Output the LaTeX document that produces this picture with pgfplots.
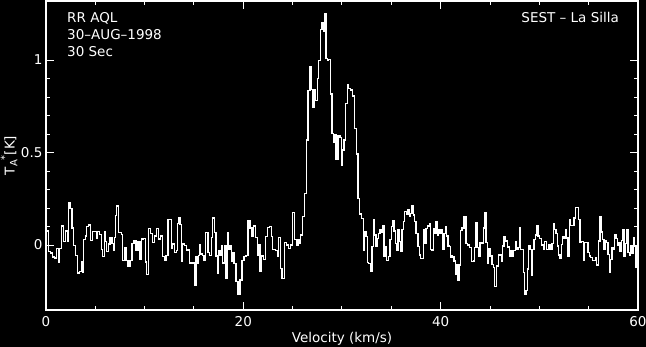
\documentclass[border=0pt]{standalone}
\usepackage{pgfplots}
\pgfplotsset{compat=1.18}
\usepackage{fontspec}
\setmainfont{DejaVu Sans}
\pgfplotstableread{
v T
0 0.076
0.27 -0.035
0.47 -0.044
0.68 -0.065
0.88 -0.069
1.08 -0.018
1.28 -0.095
1.38 -0.018
1.55 0.104
1.76 0.019
1.96 0.076
2.16 0.019
2.26 0.231
2.43 0.196
2.63 0.093
2.77 -0.004
2.97 -0.055
3.18 -0.150
3.38 -0.143
3.58 -0.092
3.68 -0.145
3.78 0.030
3.99 0.049
4.12 0.099
4.32 0.109
4.53 0.023
4.73 0.072
4.93 0.074
5.13 0.037
5.20 0.072
5.40 0.058
5.61 -0.023
5.74 -0.062
5.95 0.072
6.05 0.019
6.15 -0.034
6.35 0.005
6.49 0.041
6.69 0.009
6.82 -0.026
6.96 0.041
7.06 0.160
7.16 0.210
7.36 0.067
7.63 0.058
7.77 -0.083
7.97 -0.012
8.11 -0.083
8.31 -0.115
8.51 -0.083
8.72 0.009
8.92 0.026
9.12 -0.026
9.32 0.019
9.53 -0.076
9.66 0.032
9.86 0.037
10.07 -0.092
10.20 -0.160
10.40 0.090
10.61 0.062
10.81 0.014
11.01 0.049
11.22 0.088
11.42 0.032
11.62 0.049
11.82 -0.062
12.03 -0.083
12.16 -0.058
12.36 0.139
12.70 -0.016
12.84 0.005
13.04 -0.039
13.24 -0.030
13.31 0.115
13.45 0.150
13.58 0.111
13.72 -0.086
13.85 0.005
14.05 -0.002
14.26 -0.030
14.39 -0.026
14.53 -0.097
15.07 -0.215
15.20 -0.065
15.34 -0.100
15.47 -0.056
15.54 0.000
15.68 -0.048
15.88 -0.056
16.01 -0.083
16.15 0.067
16.42 -0.039
16.55 -0.056
16.76 0.041
16.89 0.146
17.09 0.067
17.23 -0.060
17.36 -0.150
17.50 -0.030
17.63 -0.056
17.77 -0.004
17.90 -0.097
18.11 -0.004
18.24 -0.180
18.38 0.067
18.51 -0.021
18.65 -0.004
18.78 -0.086
18.92 -0.044
19.05 -0.100
19.26 -0.198
19.46 -0.268
19.66 -0.189
19.86 -0.083
20.07 -0.062
20.27 -0.056
20.47 0.129
20.68 0.093
20.88 0.049
21.01 0.102
21.22 0.041
21.42 -0.053
21.49 0.000
21.69 -0.144
21.82 -0.060
22.03 -0.077
22.23 0.045
22.43 0.095
22.63 0.099
22.84 0.045
22.97 -0.023
23.24 -0.031
23.45 -0.063
23.58 0.041
23.78 -0.126
23.92 -0.180
24.19 0.013
24.39 0.000
24.59 -0.018
24.80 0.000
25.00 0.175
25.20 0.031
25.40 0.000
25.54 0.031
25.68 0.009
25.81 0.054
26.01 0.153
26.22 0.279
26.42 0.568
26.55 0.834
26.76 0.964
26.89 0.841
27.03 0.744
27.16 0.841
27.30 0.780
27.50 0.901
27.64 0.996
27.84 1.166
27.97 1.202
28.11 1.153
28.24 1.249
28.38 1.009
28.51 0.996
28.65 1.004
28.85 0.816
28.99 0.604
29.12 0.553
29.26 0.595
29.39 0.463
29.59 0.589
29.80 0.582
29.93 0.432
30.07 0.514
30.20 0.568
30.34 0.766
30.54 0.865
30.68 0.847
30.88 0.838
31.08 0.805
31.28 0.631
31.49 0.492
31.62 0.252
31.76 0.168
31.96 0.144
32.16 -0.031
32.30 0.072
32.43 0.045
32.57 -0.095
32.70 -0.099
32.90 -0.144
33.04 -0.009
33.18 0.135
33.31 0.054
33.45 -0.009
33.58 0.036
33.72 0.063
33.85 0.085
33.99 0.067
34.12 0.103
34.26 -0.059
34.39 -0.009
34.53 -0.085
34.73 -0.063
34.87 0.031
35.00 0.099
35.14 0.132
35.27 0.077
35.41 0.009
35.54 -0.031
35.68 0.081
35.81 0.018
35.95 -0.036
36.08 0.085
36.22 0.126
36.35 0.180
36.55 0.168
36.69 0.193
36.82 0.153
36.96 0.171
37.09 0.211
37.23 0.162
37.36 0.126
37.50 0.063
37.70 -0.009
37.84 -0.054
37.97 -0.072
38.24 0.081
38.38 0.009
38.51 0.090
38.65 0.103
38.85 0.114
38.99 -0.023
39.12 -0.031
39.26 0.090
39.39 0.063
39.53 0.126
39.66 0.054
39.80 0.085
39.93 0.063
40.07 0.085
40.20 -0.023
40.34 0.063
40.47 0.099
40.61 0.049
40.74 -0.005
40.88 -0.009
41.01 -0.067
41.08 -0.059
41.21 -0.064
41.35 -0.086
41.48 -0.157
41.62 -0.104
41.75 -0.193
41.89 -0.107
42.03 0.079
42.16 0.093
42.36 0.155
42.57 0.007
42.70 0.000
42.90 -0.014
43.11 -0.089
43.31 -0.086
43.44 -0.014
43.58 0.120
43.71 -0.014
43.85 -0.059
43.98 0.013
44.19 0.007
44.32 0.093
44.46 0.173
44.59 0.013
44.73 -0.100
44.86 -0.018
45.00 -0.059
45.20 -0.104
45.34 -0.121
45.47 -0.225
45.67 -0.113
45.88 -0.054
46.15 -0.086
46.28 -0.005
46.42 0.043
46.55 0.021
46.75 -0.011
46.96 -0.059
47.09 -0.032
47.23 -0.059
47.36 -0.029
47.57 0.018
47.70 -0.023
47.84 -0.014
47.97 0.093
48.11 -0.023
48.38 -0.148
48.51 -0.264
48.65 -0.246
48.78 -0.130
48.92 -0.005
49.05 -0.023
49.19 -0.166
49.32 -0.023
49.46 0.030
49.59 0.054
49.73 0.102
49.86 0.048
50.00 0.036
50.20 0.000
50.40 -0.023
50.54 0.018
50.74 -0.023
50.94 0.004
51.08 -0.023
51.28 0.007
51.42 0.114
51.55 0.084
51.69 0.061
51.82 -0.005
51.96 -0.054
52.09 -0.071
52.23 0.004
52.36 0.043
52.50 0.039
52.63 0.084
52.77 0.039
52.90 -0.059
53.04 0.138
53.17 0.107
53.51 0.146
53.64 0.204
53.98 0.138
54.12 0.013
54.25 0.018
54.46 -0.082
54.59 0.013
54.93 -0.041
55.06 -0.059
55.20 -0.068
55.40 -0.082
55.67 -0.068
55.81 -0.107
56.01 0.021
56.15 0.155
56.28 0.070
56.42 0.030
56.55 -0.023
56.69 0.025
56.82 0.013
56.96 -0.050
57.09 -0.148
57.23 -0.077
57.36 -0.014
57.50 -0.023
57.63 0.057
57.77 0.036
57.90 0.000
58.04 0.013
58.17 -0.036
58.31 0.025
58.45 0.084
58.58 -0.059
58.72 0.007
58.85 0.084
58.99 -0.041
59.12 -0.054
59.26 -0.005
59.39 -0.046
59.53 0.039
59.66 -0.005
59.80 -0.118
59.93 -0.136
60.00 -0.136
}\spec
\begin{document}
\begin{tikzpicture}
\fill[black,use as bounding box] (-46pt,-37pt) rectangle (600pt,310pt);
\begin{axis}[
  at={(0pt,0pt)}, anchor=south west,
  scale only axis, width=592pt, height=309pt,
  xmin=0, xmax=60, ymin=-0.351, ymax=1.319,
  xtick={0,20,40,60}, minor x tick num=3,
  ytick={0,0.5,1}, minor y tick num=4,
  major tick length=8pt, minor tick length=4pt,
  tick align=inside,
  axis line style={white, line width=1.2pt},
  every tick/.style={white, line width=1pt},
  tick label style={white, font=\fontsize{13.5}{16}\selectfont},
  /pgf/number format/assume math mode=true,
  yticklabel style={/pgf/number format/fixed},
  xticklabel style={yshift=-3pt},
  label style={white, font=\fontsize{13.5}{16}\selectfont},
  xlabel={Velocity (km/s)},
  xlabel style={at={(axis description cs:0.5,0)}, anchor=center, yshift=-29pt},
  ylabel={T\raisebox{-0.35ex}{\fontsize{10}{12}\selectfont A}\raisebox{0.9ex}{\fontsize{10}{12}\selectfont *}[K]},
  ylabel style={at={(axis description cs:-0.0625,0.5)}, anchor=center},
  clip=true,
]
\addplot[const plot, white, line width=1.4pt] table[x=v,y=T] {\spec};
\node[anchor=base west, white, font=\fontsize{13.5}{16}\selectfont, inner sep=0] at (axis description cs:0.0355,0.932) {RR AQL};
\node[anchor=base west, white, font=\fontsize{13.5}{16}\selectfont, inner sep=0] at (axis description cs:0.0355,0.876) {30–AUG–1998};
\node[anchor=base west, white, font=\fontsize{13.5}{16}\selectfont, inner sep=0] at (axis description cs:0.0355,0.821) {30 Sec};
\node[anchor=base east, white, font=\fontsize{13.5}{16}\selectfont, inner sep=0] at (axis description cs:0.968,0.932) {SEST – La Silla};
\end{axis}
\end{tikzpicture}
\end{document}
